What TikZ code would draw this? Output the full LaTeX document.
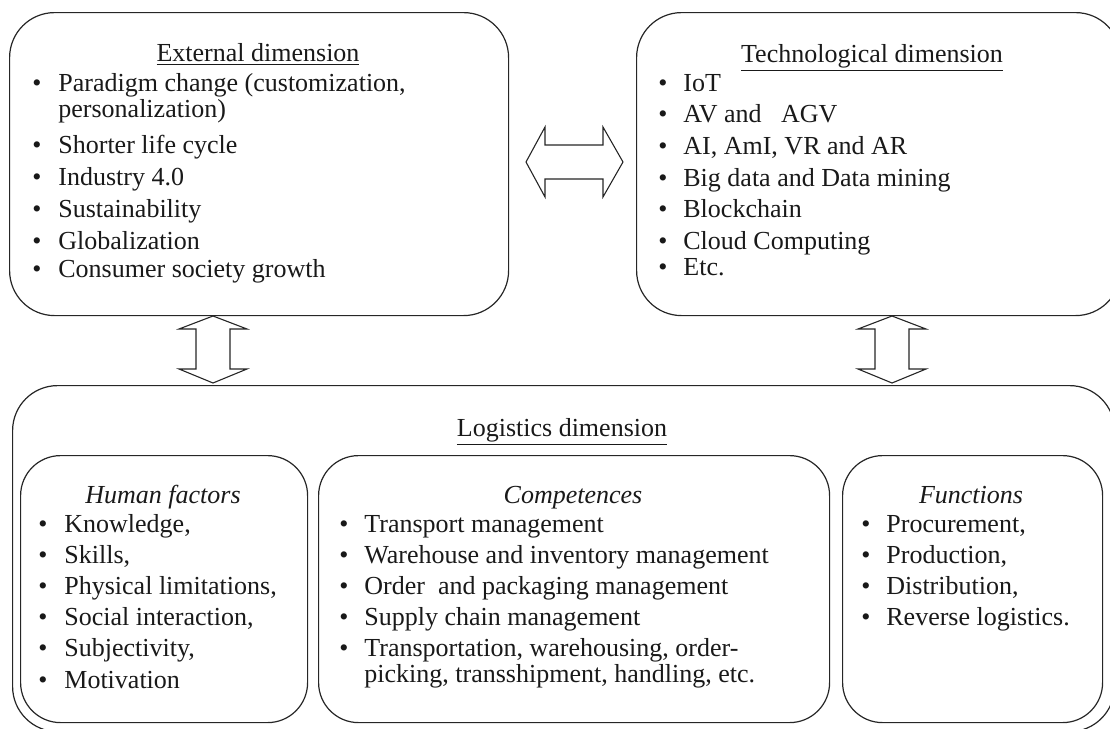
\documentclass[tikz,border=0pt]{standalone}
\usepackage{fontspec}
\setmainfont{Liberation Serif}
\begin{document}
\begin{tikzpicture}[x=0.5pt,y=-0.5pt,
  box/.style={draw=black!85, line width=0.6pt, rounded corners=22.5pt, inner sep=0pt, anchor=north west},
  ibox/.style={draw=black!85, line width=0.6pt, rounded corners=20pt, inner sep=0pt, anchor=north west},
  barrow/.style={draw=black!85, line width=0.55pt, fill=white, line join=miter},
  txt/.style={anchor=base west, inner sep=0pt, font=\fontsize{13}{15}\selectfont, text=black!90},
  ttl/.style={anchor=base, inner sep=0pt, font=\fontsize{13}{15}\selectfont, text=black!90},
  bul/.style={anchor=base, inner sep=0pt, font=\fontsize{13}{15}\selectfont, text=black!90}]
\clip (0,0) rectangle (1110,729);
\useasboundingbox (0,0) rectangle (1110,729);

% boxes
\node[box, minimum width=249.5pt, minimum height=151.5pt] (ext) at (9,12) {};
\node[box, minimum width=242pt, minimum height=151.5pt] (tech) at (636,12) {};
\node[box, minimum width=551pt, minimum height=173pt] (log) at (12,385) {};
\node[ibox, minimum width=143.5pt, minimum height=133.5pt] (hf) at (20,455) {};
\node[ibox, minimum width=255.5pt, minimum height=133.5pt] (comp) at (318,455) {};
\node[ibox, minimum width=130pt, minimum height=133.5pt] (func) at (842,455) {};

% block arrows
\draw[barrow] (526,162) -- (545,127) -- (545,145) -- (603,145) -- (603,127) -- (623,162)
  -- (603,197) -- (603,179) -- (545,179) -- (545,197) -- cycle;
\draw[barrow] (213,316) -- (247,329) -- (230,329) -- (230,369) -- (247,369) -- (213,383)
  -- (179,369) -- (196,369) -- (196,329) -- (179,329) -- cycle;
\draw[barrow] (892,316) -- (926,329) -- (909,329) -- (909,369) -- (926,369) -- (892,383)
  -- (858,369) -- (875,369) -- (875,329) -- (858,329) -- cycle;

% External dimension
\node[ttl] (extT) at (258,61) {\underline{External dimension}};
\foreach \t/\y [count=\i] in {{Paradigm change (customization,}/91,{Shorter life cycle}/153,{Industry 4.0}/185,{Sustainability}/217,{Globalization}/249,{Consumer society growth}/277}{
  \node[bul] (extB\i) at (37,\y) {\textbullet};
  \node[txt] (extL\i) at (58,\y) {\t};
}
\node[txt] (extW) at (58,117) {personalization)};

% Technological dimension
\node[ttl] (techT) at (872,62) {\underline{Technological dimension}};
\foreach \t/\y [count=\i] in {{IoT}/91,{AV and \ \ AGV}/122,{AI, AmI, VR and AR}/154,{Big data and Data mining}/186,{Blockchain}/217,{Cloud Computing}/249,{Etc.}/275}{
  \node[bul] (techB\i) at (663,\y) {\textbullet};
  \node[txt] (techL\i) at (683,\y) {\t};
}

% Logistics dimension
\node[ttl] (logT) at (562,436) {\underline{Logistics dimension}};

\node[ttl] (hfT) at (163,503) {\textit{Human factors}};
\foreach \t/\y [count=\i] in {{Knowledge,}/532,{Skills,}/563,{Physical limitations,}/594,{Social interaction,}/625,{Subjectivity,}/656,{Motivation}/688}{
  \node[bul] (hfB\i) at (43,\y) {\textbullet};
  \node[txt] (hfL\i) at (64,\y) {\t};
}

\node[ttl] (compT) at (573,503) {\textit{Competences}};
\foreach \t/\y [count=\i] in {{Transport management}/532,{Warehouse and inventory management}/563,{Order \ and packaging management}/594,{Supply chain management}/625,{Transportation, warehousing, order-}/656}{
  \node[bul] (compB\i) at (344,\y) {\textbullet};
  \node[txt] (compL\i) at (364,\y) {\t};
}
\node[txt] (compW) at (364,682) {picking, transshipment, handling, etc.};

\node[ttl] (funcT) at (971,503) {\textit{Functions}};
\foreach \t/\y [count=\i] in {{Procurement,}/532,{Production,}/563,{Distribution,}/594,{Reverse logistics.}/625}{
  \node[bul] (funcB\i) at (866,\y) {\textbullet};
  \node[txt] (funcL\i) at (886,\y) {\t};
}
\end{tikzpicture}
\end{document}
